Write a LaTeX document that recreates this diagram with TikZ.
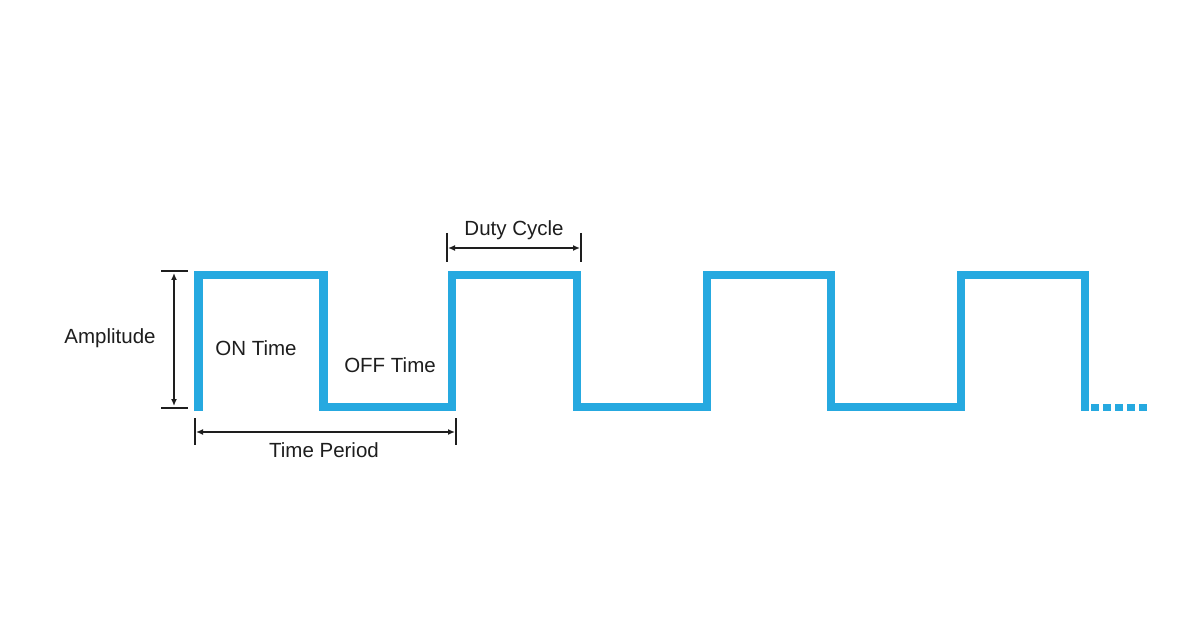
\documentclass[tikz,border=0pt]{standalone}
\usepackage{fontspec}
\setmainfont{Liberation Sans}
\usetikzlibrary{arrows.meta}
\definecolor{wave}{RGB}{38,169,224}
\definecolor{ink}{RGB}{30,30,30}
\tikzset{
  wavepath/.style={draw=wave,line width=8.5pt,miter limit=10},
  dimline/.style={draw=ink,line width=2pt,{Latex[length=7pt,width=6pt]}-{Latex[length=7pt,width=6pt]}},
  tickline/.style={draw=ink,line width=1.6pt},
  lbl/.style={text=ink,font=\fontsize{20.5}{24}\selectfont,inner sep=0pt}
}
\begin{document}
\begin{tikzpicture}[x=1pt,y=-1pt]
\useasboundingbox[fill=white] (0,0) rectangle (1200,628);
% waveform
\draw[wavepath] (198.5,411) -- (198.5,275) -- (323.5,275) -- (323.5,407) -- (452,407) -- (452,275)
  -- (577,275) -- (577,407) -- (707,407) -- (707,275) -- (831,275) -- (831,407)
  -- (961,407) -- (961,275) -- (1085,275) -- (1085,411);
\draw[draw=wave,line width=7pt,dash pattern=on 8pt off 4pt] (1091,407) -- (1147,407);
% amplitude
\coordinate (at1) at (161,271); \coordinate (at2) at (188,271);
\coordinate (ab1) at (161,408); \coordinate (ab2) at (188,408);
\coordinate (atop) at (174,273); \coordinate (abot) at (174,406);
\draw[tickline] (at1) -- (at2);
\draw[tickline] (ab1) -- (ab2);
\draw[dimline] (atop) -- (abot);
\node[lbl] (amp) at (110,338) {Amplitude};
% time period
\coordinate (tl1) at (195,418); \coordinate (tl2) at (195,445);
\coordinate (tr1) at (456,418); \coordinate (tr2) at (456,445);
\coordinate (tpl) at (196,432); \coordinate (tpr) at (455,432);
\draw[tickline] (tl1) -- (tl2);
\draw[tickline] (tr1) -- (tr2);
\draw[dimline] (tpl) -- (tpr);
\node[lbl] (tp) at (324,450) {Time Period};
% duty cycle
\coordinate (dl1) at (447,233); \coordinate (dl2) at (447,262);
\coordinate (dr1) at (581,233); \coordinate (dr2) at (581,262);
\coordinate (dcl) at (448,248); \coordinate (dcr) at (580,248);
\draw[tickline] (dl1) -- (dl2);
\draw[tickline] (dr1) -- (dr2);
\draw[dimline] (dcl) -- (dcr);
\node[lbl] (dc) at (514,230) {Duty Cycle};
% labels
\node[lbl] (on) at (256,348) {ON Time};
\node[lbl] (off) at (390,365) {OFF Time};
\end{tikzpicture}
\end{document}
